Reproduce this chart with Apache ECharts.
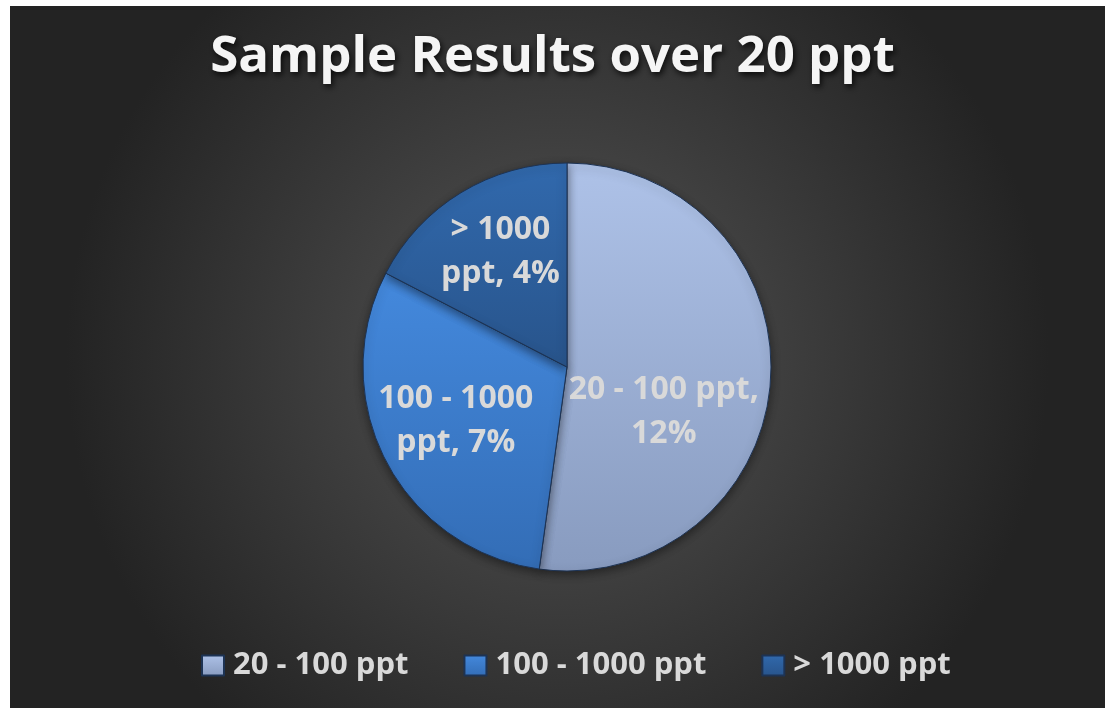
<!DOCTYPE html>
<html>
<head>
<meta charset="utf-8">
<script src="https://cdn.jsdelivr.net/npm/echarts@6/dist/echarts.min.js"></script>
<style>
html,body{margin:0;padding:0;background:#ffffff;}
#chart{width:1105px;height:708px;}
</style>
</head>
<body>
<div id="chart"></div>
<script>
const titleText = 'Sample Results over 20 ppt';
const categories = ['20 - 100 ppt', '100 - 1000 ppt', '> 1000 ppt'];
const values = [12, 7, 4];
const labelTexts = ['20 - 100 ppt,\n12%', '100 - 1000\nppt, 7%', '> 1000\nppt, 4%'];

const sliceColors = [
  ['#aec2e8', '#889bbf'],
  ['#4489dd', '#336db6'],
  ['#3169ad', '#28548b']
];
const labelOffsets = [[-8, 38], [-18, 6], [-12, -25]];

function grad(c) {
  return new echarts.graphic.LinearGradient(0, 0, 0, 1, [
    {offset: 0, color: c[0]}, {offset: 1, color: c[1]}
  ]);
}

const chart = echarts.init(document.getElementById('chart'), null, {renderer: 'canvas'});
chart.setOption({
  backgroundColor: '#ffffff',
  graphic: [{
    type: 'rect', z: -10, silent: true,
    shape: {x: 10, y: 6, width: 1095, height: 702},
    style: {
      fill: new echarts.graphic.RadialGradient(0.5, 0.5, 0.7, [
        {offset: 0, color: '#555555'},
        {offset: 1, color: '#232323'}
      ])
    }
  }],
  title: {
    text: titleText,
    left: 'center',
    top: 27,
    textStyle: {
      fontFamily: 'Open Sans',
      fontWeight: 'bold',
      fontSize: 51,
      color: '#f5f5f5',
      textShadowColor: 'rgba(0,0,0,0.8)',
      textShadowBlur: 6,
      textShadowOffsetX: 2,
      textShadowOffsetY: 3
    }
  },
  legend: {
    bottom: 22,
    left: 196,
    itemWidth: 22,
    itemHeight: 20,
    itemGap: 55,
    icon: 'rect',
    data: categories,
    textStyle: {
      fontFamily: 'Open Sans',
      fontWeight: 'bold',
      fontSize: 31,
      color: '#d9d9d9',
      padding: [0, 0, 0, 4]
    }
  },
  series: [{
    type: 'pie',
    center: [567, 367],
    radius: [0, 204],
    startAngle: 90,
    clockwise: true,
    animation: false,
    label: {
      show: true,
      position: 'inside',
      fontFamily: 'Open Sans',
      fontWeight: 'bold',
      fontSize: 32,
      lineHeight: 44,
      color: '#d9d9d9'
    },
    labelLine: {show: false},
    itemStyle: {
      borderColor: '#1d3354',
      borderWidth: 1,
      shadowColor: 'rgba(0,0,0,0.45)',
      shadowBlur: 10,
      shadowOffsetY: 3
    },
    emphasis: {disabled: true},
    data: categories.map((c, i) => ({
      name: c,
      value: values[i],
      itemStyle: {color: grad(sliceColors[i])},
      label: {formatter: labelTexts[i], offset: labelOffsets[i]}
    }))
  }]
});
</script>
</body>
</html>
